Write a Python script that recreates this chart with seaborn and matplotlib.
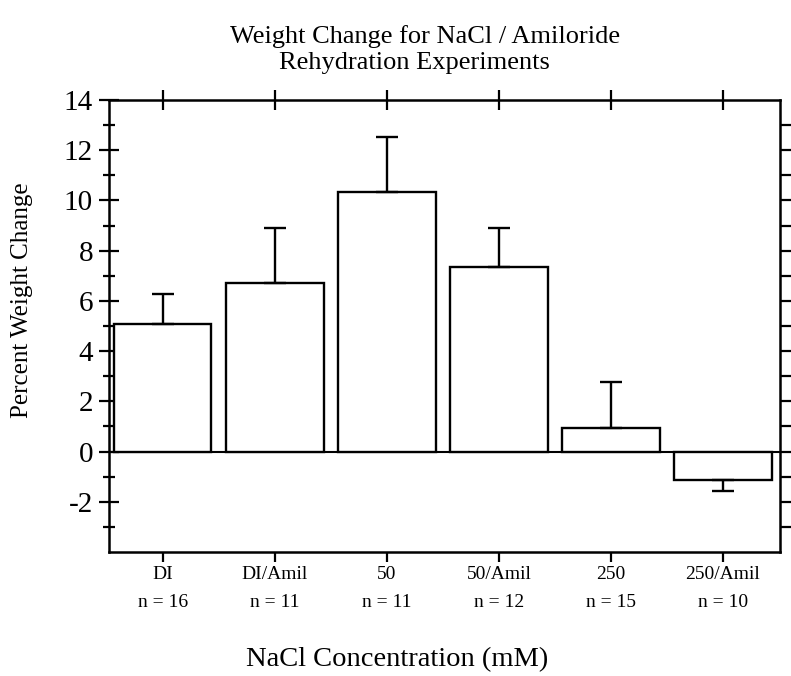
import matplotlib
matplotlib.use("Agg")
import matplotlib.pyplot as plt
import seaborn as sns
import pandas as pd
import numpy as np

categories = ["DI", "DI/Amil", "50", "50/Amil", "250", "250/Amil"]
n_labels = ["n = 16", "n = 11", "n = 11", "n = 12", "n = 15", "n = 10"]
values = [5.08, 6.72, 10.32, 7.36, 0.92, -1.12]
errors = [1.2, 2.2, 2.2, 1.56, 1.84, 0.44]
y_major = [-2, 0, 2, 4, 6, 8, 10, 12, 14]
y_minor = [-3, -1, 1, 3, 5, 7, 9, 11, 13]

sns.set_style("white")
plt.rcParams['font.family'] = ['Liberation Serif', 'DejaVu Serif']
plt.rcParams['text.color'] = 'black'
plt.rcParams['xtick.color'] = 'black'
plt.rcParams['ytick.color'] = 'black'
plt.rcParams['axes.labelcolor'] = 'black'

df = pd.DataFrame({"cat": categories, "val": values})

fig = plt.figure(figsize=(7.91, 6.76), dpi=100)
ax = fig.add_axes([109/791, 1-552/676, (780-109)/791, (552-100)/676])

sns.barplot(data=df, x="cat", y="val", ax=ax, color="white", edgecolor="black",
            linewidth=1.7, width=0.87, errorbar=None, saturation=1)

x = np.arange(len(categories))
vals = np.array(values)
errs = np.array(errors)
lower = np.where(vals < 0, errs, 0)
upper = np.where(vals >= 0, errs, 0)
ax.errorbar(x, vals, yerr=[lower, upper], fmt="none", ecolor="black",
            elinewidth=1.7, capsize=8, capthick=1.7, zorder=1)
ax.axhline(0, color="black", lw=1.5, zorder=0)

ax.set_xlim(-0.48, 5.51)
ax.set_ylim(-4, 14)
ax.set_xlabel("")
ax.set_ylabel("")

for s in ax.spines.values():
    s.set_visible(True)
    s.set_linewidth(1.8)
    s.set_color("black")

ax.set_yticks(y_major)
ax.set_yticks(y_minor, minor=True)
ax.set_yticklabels([str(v) for v in y_major], fontsize=21)
ax.tick_params(axis="y", which="major", direction="inout", length=15, width=1.6,
               left=True, right=False, pad=4, colors="black")
ax.tick_params(axis="y", which="minor", direction="inout", length=9, width=1.6,
               left=True, right=False)

ax.set_xticks(x)
ax.set_xticklabels([f"{c}\n{n}" for c, n in zip(categories, n_labels)],
                   fontsize=14, linespacing=1.85)
ax.tick_params(axis="x", which="major", direction="out", length=7, width=1.6,
               bottom=True, top=False, pad=3, colors="black")

ax_r = ax.twinx()
ax_r.set_ylim(-4, 14)
ax_r.set_yticks(list(range(-3, 14)))
ax_r.tick_params(axis="y", direction="out", length=8, width=1.6, labelright=False,
                 right=True, colors="black")
for s in ax_r.spines.values():
    s.set_visible(False)

sec = ax.secondary_xaxis("top")
sec.set_xticks(x)
sec.set_xticklabels([])
sec.tick_params(direction="inout", length=14, width=1.6, colors="black")
sec.spines["top"].set_visible(False)

fig.text(425/791, 1-37/676, "Weight Change for NaCl / Amiloride", ha="center", va="center",
         fontsize=19, color="black")
fig.text(414/791, 1-63/676, "Rehydration Experiments", ha="center", va="center",
         fontsize=19, color="black")
fig.text(22/791, 1-300/676, "Percent Weight Change", ha="center", va="center",
         rotation=90, fontsize=18, color="black")
fig.text(397/791, 1-660/676, "NaCl Concentration (mM)", ha="center", va="center",
         fontsize=20.5, color="black")

fig.savefig("out.png", dpi=100, facecolor="white")
